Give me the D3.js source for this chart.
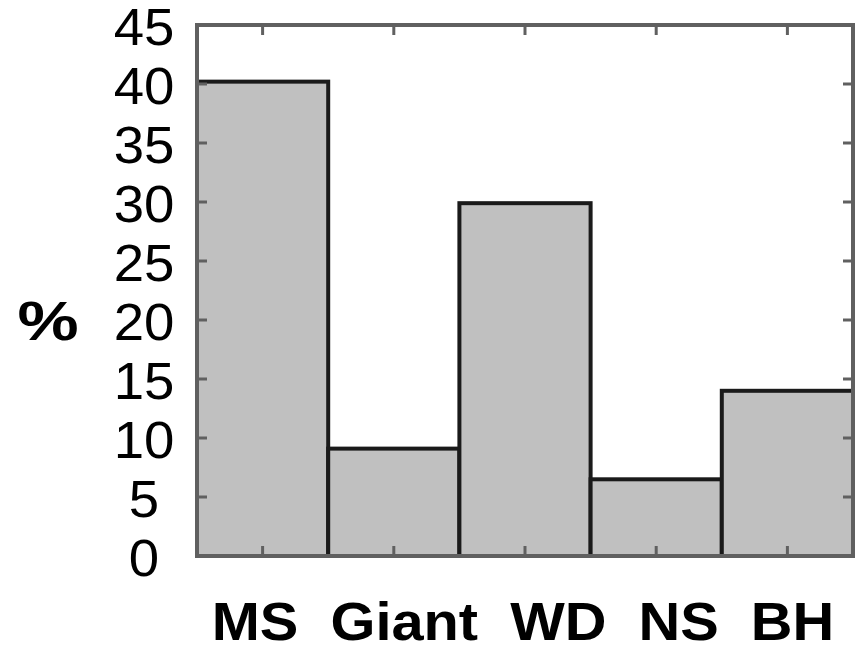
<!DOCTYPE html>
<html>
<head>
<meta charset="utf-8">
<script src="https://cdn.jsdelivr.net/npm/d3@7"></script>
<style>
  body { margin: 0; background: #fff; }
  text { font-family: "Liberation Sans", Arial, sans-serif; }
</style>
</head>
<body>
<svg width="861" height="647" viewBox="0 0 861 647"></svg>
<script>
// data
var categories = ["MS", "Giant", "WD", "NS", "BH"];
var values = [40.2, 9.1, 29.9, 6.5, 14.0];
var yTicks = [0, 5, 10, 15, 20, 25, 30, 35, 40, 45];

var canvas = d3.select("svg");

// plot box
var plotLeft = 197, plotRight = 853, plotTop = 25, plotBottom = 556;

var x = d3.scaleBand()
  .domain(categories)
  .range([plotLeft, plotRight])
  .padding(0);

var y = d3.scaleLinear()
  .domain([0, 45])
  .range([plotBottom, plotTop]);

// bars
canvas.selectAll("rect.bar")
  .data(values)
  .enter()
    .append("rect")
    .attr("class", "bar")
    .attr("x", function(d, i) { return x(categories[i]); })
    .attr("y", function(d) { return y(d); })
    .attr("width", x.bandwidth())
    .attr("height", function(d) { return y(0) - y(d); })
    .style("fill", "#c0c0c0")
    .style("stroke", "#1a1a1a")
    .style("stroke-width", 4);

// frame
canvas.append("rect")
  .attr("x", plotLeft)
  .attr("y", plotTop)
  .attr("width", plotRight - plotLeft)
  .attr("height", plotBottom - plotTop)
  .style("fill", "none")
  .style("stroke", "#606060")
  .style("stroke-width", 4);

// ticks, pointing inward on all four sides
var tickLen = 10;
var inner = yTicks.slice(1, -1);

canvas.selectAll("line.yl")
  .data(inner)
  .enter()
    .append("line")
    .attr("x1", plotLeft).attr("x2", plotLeft + tickLen)
    .attr("y1", function(d) { return y(d); })
    .attr("y2", function(d) { return y(d); })
    .style("stroke", "#606060").style("stroke-width", 3);

canvas.selectAll("line.yr")
  .data(inner)
  .enter()
    .append("line")
    .attr("x1", plotRight).attr("x2", plotRight - tickLen)
    .attr("y1", function(d) { return y(d); })
    .attr("y2", function(d) { return y(d); })
    .style("stroke", "#606060").style("stroke-width", 3);

canvas.selectAll("line.xb")
  .data(categories)
  .enter()
    .append("line")
    .attr("x1", function(d) { return x(d) + x.bandwidth() / 2; })
    .attr("x2", function(d) { return x(d) + x.bandwidth() / 2; })
    .attr("y1", plotBottom).attr("y2", plotBottom - tickLen)
    .style("stroke", "#606060").style("stroke-width", 3);

canvas.selectAll("line.xt")
  .data(categories)
  .enter()
    .append("line")
    .attr("x1", function(d) { return x(d) + x.bandwidth() / 2; })
    .attr("x2", function(d) { return x(d) + x.bandwidth() / 2; })
    .attr("y1", plotTop).attr("y2", plotTop + tickLen)
    .style("stroke", "#606060").style("stroke-width", 3);

// y tick labels (glyphs are a bit wide in the original, so stretch x)
canvas.selectAll("text.ylab")
  .data(yTicks)
  .enter()
    .append("text")
    .attr("class", "ylab")
    .attr("transform", function(d) { return "translate(144," + (y(d) + 2) + ") scale(1.07,1)"; })
    .attr("dy", "0.36em")
    .attr("text-anchor", "middle")
    .style("font-size", "51px")
    .style("fill", "#000")
    .text(function(d) { return d; });

// x labels, one centred line like the original
canvas.append("text")
  .attr("transform", "translate(" + ((plotLeft + plotRight) / 2 - 2) + ",640) scale(1.07,1)")
  .attr("text-anchor", "middle")
  .style("font-size", "54px")
  .style("font-weight", "bold")
  .style("fill", "#000")
  .text(categories.join("\u00a0\u00a0"));

// y axis title
canvas.append("text")
  .attr("transform", "translate(48,340) scale(1.25,1)")
  .attr("text-anchor", "middle")
  .style("font-size", "55px")
  .style("font-weight", "bold")
  .text("%");
</script>
</body>
</html>
